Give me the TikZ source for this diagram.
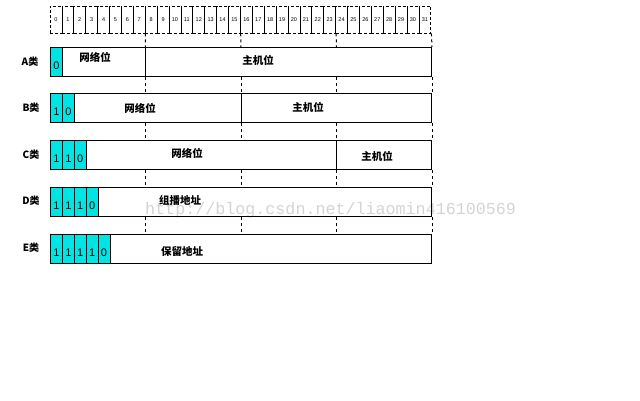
\documentclass[tikz,border=0pt]{standalone}
\usepackage{fontspec}
\setmainfont{Liberation Sans}
\newfontfamily\cjk{Noto Sans CJK SC}
\newfontfamily\wmfont{Liberation Mono}
\usetikzlibrary{calc}
\definecolor{bitcyan}{RGB}{0,228,228}
\definecolor{wmgray}{RGB}{212,212,212}
\newcommand{\lowdigit}[1]{\raisebox{-7pt}[0pt][0pt]{#1}}
\tikzset{
  bitcell/.style={draw, dashed, dash pattern=on 3pt off 2pt, line width=0.8pt, minimum width=11.9pt, minimum height=27pt, inner sep=0pt, font=\fontsize{5.5}{6}\selectfont},
  rowbox/.style={draw, line width=1pt, minimum width=381pt, minimum height=29pt, inner sep=0pt, anchor=north west},
  cyanbit/.style={draw, line width=1pt, fill=bitcyan, minimum width=11.9pt, minimum height=29pt, inner sep=0pt, anchor=north west, font=\fontsize{11}{12}\selectfont},
  clslabel/.style={font=\cjk\bfseries\fontsize{10}{11}\selectfont, inner sep=0pt},
  fieldlabel/.style={font=\cjk\bfseries\fontsize{10.5}{12}\selectfont, inner sep=0pt},
  vdash/.style={dashed, dash pattern=on 3pt off 3pt, line width=1pt},
  divider/.style={line width=1pt},
  watermark/.style={font=\wmfont\fontsize{16.7}{18}\selectfont, text=wmgray, inner sep=0pt, anchor=west}
}
\begin{document}
\begin{tikzpicture}[x=1pt,y=-1pt]
\useasboundingbox (0,0) rectangle (640,400);
\fill[white] (0,0) rectangle (640,400);

% watermark (behind)
\node[watermark] (wm) at (145,210) {http://blog.csdn.net/liaomin416100569};

% bit number row
\node[minimum width=381pt, minimum height=27pt, inner sep=0pt, anchor=north west] (bits) at (50,6) {};
\foreach \i in {0,...,31}{
  \node[bitcell] (b\i) at ({50+11.9*\i+5.95},19.5) {\i};
}

% class rows
\node[rowbox] (A) at (50,47) {};
\node[rowbox] (B) at (50,93) {};
\node[rowbox] (C) at (50,140) {};
\node[rowbox] (D) at (50,187) {};
\node[rowbox] (E) at (50,234) {};

% cyan leading bits
\node[cyanbit] (A0) at (50,47) {\lowdigit{0}};

\node[cyanbit] (B0) at (50,93) {\lowdigit{1}};
\node[cyanbit] (B1) at (61.9,93) {\lowdigit{0}};

\node[cyanbit] (C0) at (50,140) {\lowdigit{1}};
\node[cyanbit] (C1) at (61.9,140) {\lowdigit{1}};
\node[cyanbit] (C2) at (73.8,140) {\lowdigit{0}};

\node[cyanbit] (D0) at (50,187) {\lowdigit{1}};
\node[cyanbit] (D1) at (61.9,187) {\lowdigit{1}};
\node[cyanbit] (D2) at (73.8,187) {\lowdigit{1}};
\node[cyanbit] (D3) at (85.7,187) {\lowdigit{0}};

\node[cyanbit] (E0) at (50,234) {\lowdigit{1}};
\node[cyanbit] (E1) at (61.9,234) {\lowdigit{1}};
\node[cyanbit] (E2) at (73.8,234) {\lowdigit{1}};
\node[cyanbit] (E3) at (85.7,234) {\lowdigit{1}};
\node[cyanbit] (E4) at (97.6,234) {\lowdigit{0}};

% network / host dividers
\draw[divider] ($(A.north west)!0.25!(A.north east)$) -- ($(A.south west)!0.25!(A.south east)$);
\draw[divider] ($(B.north west)!0.5!(B.north east)$) -- ($(B.south west)!0.5!(B.south east)$);
\draw[divider] ($(C.north west)!0.75!(C.north east)$) -- ($(C.south west)!0.75!(C.south east)$);

% dashed guides between rows
\foreach \r/\s in {bits/A, A/B, B/C, C/D, D/E}{
  \foreach \k in {0.25,0.5,0.75,1}{
    \draw[vdash] ($(\r.south west)!\k!(\r.south east)$) -- ($(\s.north west)!\k!(\s.north east)$);
  }
}

% class labels
\node[clslabel] (lA) at (30,62) {A类};
\node[clslabel] (lB) at (31,108) {B类};
\node[clslabel] (lC) at (31,155) {C类};
\node[clslabel] (lD) at (31,201) {D类};
\node[clslabel] (lE) at (31,248) {E类};

% field labels
\node[fieldlabel] (An) at (95,57) {网络位};
\node[fieldlabel] (Ah) at (258,60) {主机位};
\node[fieldlabel] (Bn) at (140,108) {网络位};
\node[fieldlabel] (Bh) at (308,107) {主机位};
\node[fieldlabel] (Cn) at (187,153) {网络位};
\node[fieldlabel] (Ch) at (377,156) {主机位};
\node[fieldlabel] (Dn) at (180,200) {组播地址};
\node[fieldlabel] (En) at (182,251) {保留地址};
\end{tikzpicture}
\end{document}
